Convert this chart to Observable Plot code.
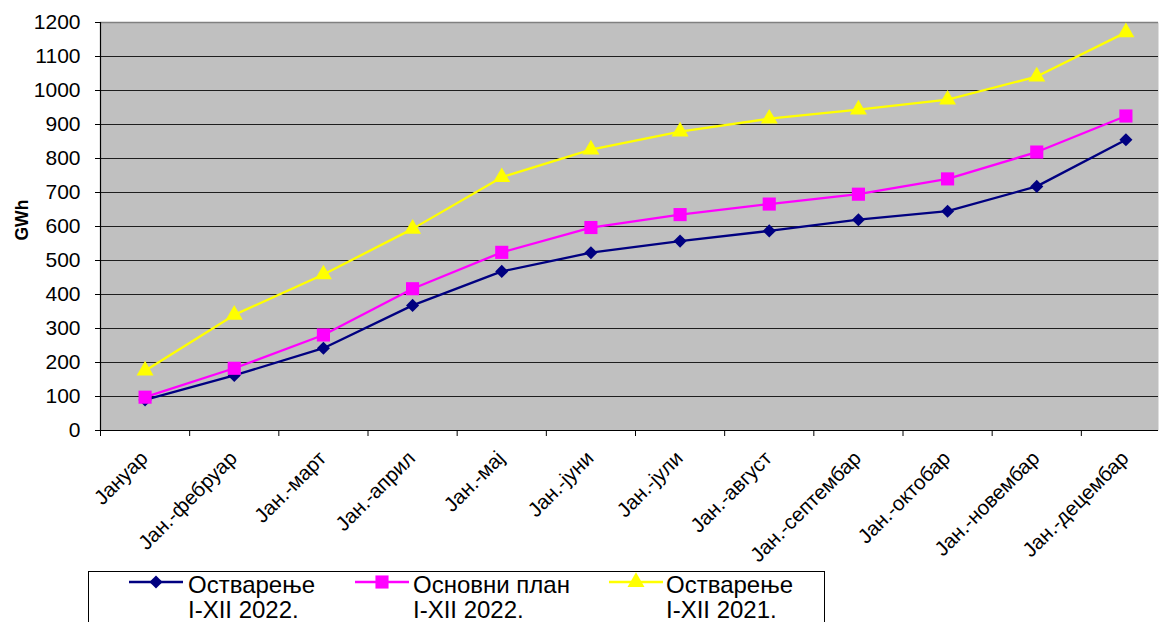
<!DOCTYPE html>
<html><head><meta charset="utf-8">
<script src="https://cdn.jsdelivr.net/npm/d3@7"></script>
<script src="https://cdn.jsdelivr.net/npm/@observablehq/plot@0.6"></script>
<style>
body{margin:0;background:#fff;font-family:"Liberation Sans",Arial,sans-serif;overflow:hidden}
#wrap{position:relative;width:1160px;height:622px;overflow:hidden}
#chart svg{display:block;overflow:hidden}
.legend{position:absolute;left:88px;top:571px;width:737px;height:80px;border:1px solid #000;background:#fff;box-sizing:border-box}
.sw{position:absolute;top:0;}
.lt{position:absolute;top:0px;font-size:24px;line-height:25px;color:#000;white-space:nowrap}
</style></head>
<body>
<div id="wrap"><div id="chart"></div><div class="legend" id="legend"></div></div>
<script>
const months = ["Јануар","Јан.-фебруар","Јан.-март","Јан.-април","Јан.-мај","Јан.-јуни","Јан.-јули","Јан.-август","Јан.-септембар","Јан.-октобар","Јан.-новембар","Јан.-децембар"];
const actual2022 = [90,162,242,368,468,523,557,587,620,645,718,855];
const plan2022   = [98,183,281,417,524,597,635,666,695,740,819,925];
const actual2021 = [176,340,459,593,745,826,879,917,944,973,1041,1171];
const yTicks = [0,100,200,300,400,500,600,700,800,900,1000,1100,1200];
const seriesNames = ["Остварење\nI-XII 2022.","Основни план\nI-XII 2022.","Остварење\nI-XII 2021."];
const seriesColors = ["#000080","#FF00FF","#FFFF00"];
const seriesSymbols = ["diamond2","square","triangle"];
const seriesR = [5.9,7.4,6.3];
const seriesValues = [actual2022, plan2022, actual2021];

const rows = seriesValues.map((vals,s)=>vals.map((v,i)=>({i, m:months[i], v, s})));

const marks = [
  Plot.frame({fill:"#c0c0c0", stroke:null}),
  Plot.ruleY(yTicks.filter(t=>t>0 && t<1200), {stroke:"#1e1e1e", strokeWidth:1}),
  Plot.ruleY(yTicks.filter(t=>t===1200), {stroke:"#808080", strokeWidth:1.5}),
];
rows.forEach((data,s)=>{
  marks.push(Plot.line(data, {x:d=>d.i+0.5, y:"v", stroke:seriesColors[s], strokeWidth:2.3}));
  marks.push(Plot.dot(data, {x:d=>d.i+0.5, y:"v", symbol:seriesSymbols[s], r:seriesR[s], fill:seriesColors[s], stroke:null}));
});
marks.push(
  Plot.ruleX([0], {stroke:"#000", strokeWidth:1.2}),
  Plot.ruleY([0], {stroke:"#000", strokeWidth:1.2}),
  Plot.axisY({ticks:yTicks, tickSize:5, tickPadding:15, fontSize:21, label:null, tickFormat:d=>String(d)}),
  Plot.axisX({ticks:d3.range(months.length), tickSize:6, tickFormat:()=>"", label:null}),
  Plot.text(months, {x:(d,i)=>i+0.5, y:()=>0, text:d=>d, dx:4, dy:29, rotate:-45, textAnchor:"end", lineAnchor:"bottom", fontSize:20.5, fill:"#000"}),
  Plot.text(["GWh"], {frameAnchor:"left", dx:-78, dy:14, rotate:-90, fontWeight:"bold", fontSize:17.5, fill:"#000"})
);

const chart = Plot.plot({
  width:1160, height:571,
  marginLeft:100, marginRight:2, marginTop:22, marginBottom:141,
  style:{fontFamily:"'Liberation Sans', Arial, sans-serif", fontSize:"20px", background:"#fff", color:"#000", overflow:"hidden"},
  x:{type:"linear", domain:[0,12], range:[100,1170]},
  y:{domain:[0,1200]},
  marks
});
document.getElementById("chart").appendChild(chart);

// legend
const legend = document.getElementById("legend");
const swX = [40, 266, 520];
const txX = [99, 324, 577];
const ns="http://www.w3.org/2000/svg";
seriesNames.forEach((name,s)=>{
  const sw = document.createElementNS(ns,"svg");
  sw.setAttribute("width","56"); sw.setAttribute("height","24");
  sw.setAttribute("class","sw");
  sw.style.left = swX[s]+"px";
  const ln=document.createElementNS(ns,"line");
  ln.setAttribute("x1","0");ln.setAttribute("x2","54");ln.setAttribute("y1","10");ln.setAttribute("y2","10");
  ln.setAttribute("stroke",seriesColors[s]);ln.setAttribute("stroke-width","2.3");
  sw.appendChild(ln);
  const p=document.createElementNS(ns,"path");
  const sym = [d3.symbolDiamond2, d3.symbolSquare, d3.symbolTriangle][s];
  p.setAttribute("d", d3.symbol(sym, Math.PI*seriesR[s]*seriesR[s])());
  p.setAttribute("transform","translate(27,10)");
  p.setAttribute("fill",seriesColors[s]);
  sw.appendChild(p);
  legend.appendChild(sw);
  const t=document.createElement("div");
  t.className="lt"; t.style.left=txX[s]+"px";
  t.innerHTML=name.split("\n").join("<br>");
  legend.appendChild(t);
});
</script>
</body></html>
